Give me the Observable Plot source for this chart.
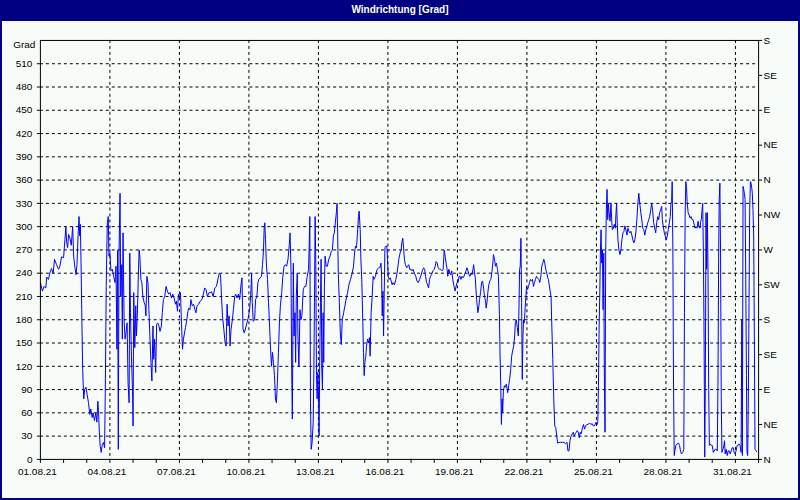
<!DOCTYPE html>
<html>
<head>
<meta charset="utf-8">
<script src="https://cdn.jsdelivr.net/npm/d3@7"></script>
<script src="https://cdn.jsdelivr.net/npm/@observablehq/plot@0.6"></script>
<style>
  html, body { margin: 0; padding: 0; background: #f8fcf8; }
  #frame { position: relative; width: 800px; height: 500px; box-sizing: border-box;
           border: 2px solid #000080; border-top: none; background: #f8fcf8; overflow: hidden; }
  #title { position: absolute; left: -2px; top: 0; width: 800px; height: 21px; background: #000080;
           color: #ffffff; font: bold 10px "Liberation Sans", Arial, sans-serif; text-align: center; line-height: 20px; }
  #chart { position: absolute; left: -2px; top: 21px; }
</style>
</head>
<body>
<div id="frame">
  <div id="title">Windrichtung [Grad]</div>
  <div id="chart"></div>
</div>
<script>
// hours since 01.08.2021 00:00
const hours = [
0,2.1,3.8,5.6,6.6,8.4,9.7,11.5,13.2,14.6,16.7,18.8,20.2,21.9,24.0,25.4,26.4,27.1,28.2,29.2,30.6,32.0,33.4,34.5,35.8,36.9,37.9,39.0,40.0,40.7,41.4,42.1,42.8,43.8,44.9,45.9,47.3,48.4,49.8,51.2,52.2,53.6,54.6,56.0,57.4,58.5,59.5,60.2,60.9,61.9,63.0,64.0,65.4,66.5,67.2,68.2,69.3,70.3,71.0,72.0,73.1,74.5,75.9,77.3,78.3,79.3,80.0,80.7,81.4,82.5,83.2,84.2,84.9,85.6,86.7,87.7,88.7,89.8,90.8,91.9,92.6,93.3,94.3,95.4,96.0,96.7,97.8,98.8,99.5,100.6,101.6,102.3,103.0,104.1,105.1,106.1,107.5,108.6,109.3,110.3,111.4,112.4,113.4,114.5,115.5,116.6,117.3,118.3,119.4,120.4,121.5,122.8,123.9,125.3,126.3,127.4,128.8,130.2,131.5,132.9,134.3,135.7,137.1,138.5,139.9,140.9,142.0,143.0,144.1,145.1,146.2,147.2,148.2,149.3,150.3,151.7,152.8,153.8,154.9,155.9,157.3,158.7,160.1,161.1,162.2,163.9,165.6,167.4,168.8,170.2,171.6,173.0,174.7,
175.6,177.3,179.0,180.7,182.4,184.2,185.2,186.6,187.6,188.6,190.0,191.4,192.4,193.4,194.4,195.5,196.5,197.5,198.9,199.9,201.3,202.3,203.7,205.1,206.4,207.8,208.8,209.9,211.2,212.3,214.0,215.4,216.7,217.8,218.8,219.5,220.5,221.9,222.9,224.3,225.3,226.3,227.7,229.1,230.1,231.1,231.8,232.5,233.2,234.2,235.3,236.3,237.3,238.3,239.4,240.4,241.4,242.5,243.5,244.5,245.5,246.6,247.6,248.6,250.0,251.0,252.4,253.8,255.1,256.5,257.9,258.6,259.6,260.3,261.0,262.0,262.7,263.7,264.4,265.1,266.1,266.8,267.8,268.9,269.9,270.9,272.3,273.7,275.0,276.4,277.8,278.5,279.1,279.8,280.5,281.5,282.6,283.3,283.9,284.6,285.3,286.0,286.7,287.4,288.1,288.7,289.4,290.1,290.8,291.5,292.2,292.9,293.5,294.2,294.9,296.0,297.3,298.7,300.1,301.4,302.5,303.5,304.5,305.5,306.6,307.3,307.9,308.6,309.7,310.7,311.7,312.7,314.1,315.5,316.9,318.2,319.6,321.3,323.0,324.4,325.4,326.5,327.5,328.5,329.5,330.2,331.3,332.0,333.0,334.0,334.7,335.4,336.1,337.1,337.8,338.9,339.9,340.9,341.6,342.6,343.7,344.7,345.7,347.1,348.8,350.5,
351.7,352.8,353.4,354.1,354.8,355.5,356.2,356.9,357.9,358.9,359.6,360.3,361.3,362.4,363.4,364.4,365.4,366.8,368.2,369.2,370.2,371.3,372.6,373.7,374.4,375.4,376.1,377.1,378.1,379.5,380.5,381.6,382.6,384.0,385.0,386.0,387.4,388.8,390.1,391.5,392.9,394.2,395.6,397.0,398.0,399.0,400.1,401.1,402.1,403.2,404.2,405.2,406.6,408.0,409.0,410.0,411.1,412.1,413.5,414.8,416.2,417.2,418.3,419.3,420.3,421.3,422.0,423.1,424.1,425.1,426.1,427.2,428.5,429.6,430.6,431.6,432.7,433.7,434.7,435.7,436.8,437.8,438.8,439.9,440.9,441.9,442.9,444.0,445.0,446.0,447.1,448.1,448.8,449.8,450.5,451.2,451.9,452.5,453.2,454.3,454.9,456.0,457.0,458.0,459.1,460.1,461.1,461.8,462.8,463.5,464.5,465.6,466.6,467.6,468.7,469.3,470.4,471.4,472.4,473.5,474.5,475.5,476.2,476.9,477.6,478.3,478.9,479.6,480.7,481.7,482.7,484.1,485.1,486.1,487.2,488.2,489.2,490.3,491.3,492.0,493.0,494.0,495.1,495.8,496.4,497.1,497.8,498.5,499.2,499.9,500.5,501.2,501.9,502.9,503.6,504.7,505.7,506.7,507.7,508.8,509.8,510.8,511.9,512.9,513.9,514.9,516.3,517.3,518.4,519.4,520.4,521.5,522.5,523.5,524.6,525.6,526.3,
528.0,529.0,529.7,530.8,531.8,532.8,533.9,534.9,535.9,537.3,539.0,540.7,542.4,544.1,545.5,546.5,547.6,548.6,549.6,551.0,552.0,553.0,554.1,555.1,556.1,557.2,558.2,559.2,560.2,561.6,562.6,563.7,564.7,566.1,567.4,568.8,570.2,571.6,572.9,574.3,575.7,576.7,577.4,578.1,578.8,579.5,580.1,580.8,581.5,582.2,582.9,583.6,584.2,584.9,585.6,586.3,587.0,587.7,588.4,589.1,590.1,591.1,591.8,592.5,593.5,594.5,595.6,596.3,596.9,597.6,598.3,599.3,600.4,601.4,602.4,603.5,604.5,605.5,606.5,607.6,608.6,609.6,610.7,611.7,612.7,613.7,614.8,615.8,616.8,617.9,618.9,619.9,620.9,622.0,623.0,624.0,625.1,626.1,627.1,628.1,629.2,630.2,631.2,632.3,633.3,634.3,635.3,636.4,637.4,638.4,639.5,640.5,641.5,642.5,643.6,644.3,645.3,646.3,647.3,648.4,649.4,650.4,651.5,652.5,653.2,653.9,654.5,655.2,655.9,656.6,657.3,658.3,659.7,661.1,662.1,663.1,664.1,665.5,666.5,667.2,667.9,668.6,669.3,670.0,671.0,672.0,673.1,674.1,675.1,676.1,677.2,678.2,679.2,680.3,681.3,682.3,683.3,684.0,684.7,685.4,686.1,686.8,687.5,688.2,688.8,689.5,690.2,690.9,691.6,692.3,693.0,694.0,695.0,696.0,697.1,698.1,699.1,700.2,701.2,701.9,702.6,703.2,703.9,704.6,705.3,706.0,707.0,708.0,708.7,709.4,710.4,711.5,712.5,713.5,714.6,715.6,716.6,717.7,718.7,719.7,720.7,721.8,722.8,723.8,724.8,725.9,726.6,727.2,727.9,728.6,729.3,730.0,730.7,731.4,732.0,732.7,733.4,734.1,734.8,735.5,736.2,736.9,737.5,738.2,738.9,739.6,740.3,741.3,742.3
];
// wind direction in degrees
const deg = [
228,217,223,221,235,232,240,246,240,258,251,245,249,261,260,283,300,281,273,290,285,276,300,261,247,238,251,288,313,288,303,253,193,116,78,90,93,84,73,58,65,54,60,50,60,48,75,63,39,18,9,18,22,15,86,223,305,313,262,266,243,245,236,228,249,142,270,13,262,343,210,251,155,292,180,155,163,176,99,73,266,189,133,90,43,215,144,198,159,193,245,270,262,232,228,210,202,198,185,236,228,193,159,125,101,172,129,155,112,174,176,172,165,172,189,206,210,223,217,213,215,208,213,208,200,204,191,213,208,215,174,142,155,163,170,180,191,195,193,206,198,200,193,189,198,200,204,206,213,221,219,210,215,
215,216,210,221,223,234,240,238,210,185,168,150,146,200,172,185,146,168,180,193,210,213,208,213,206,225,234,168,163,168,176,183,193,210,240,202,178,180,206,210,228,232,234,236,251,270,298,305,283,249,232,202,176,146,120,138,125,108,78,73,99,138,176,198,215,234,249,251,249,258,277,292,245,116,52,253,159,189,125,210,240,159,120,193,180,185,219,223,223,236,245,279,313,73,13,22,48,116,202,313,253,108,78,112,82,30,133,202,258,116,90,189,125,223,262,249,249,258,262,268,270,288,292,305,318,330,296,240,202,163,148,180,189,198,208,215,225,232,240,249,266,275,273,292,313,320,296,258,228,176,138,108,125,133,146,155,150,157,133,189,210,236,232,236,245,247,
247,253,240,185,217,159,215,273,275,275,258,236,232,234,230,225,228,225,232,238,247,258,266,270,279,285,275,258,251,247,249,251,245,245,243,245,240,236,230,228,232,237,243,247,245,236,228,225,221,232,236,238,243,245,249,255,253,247,245,245,243,245,270,262,253,245,236,245,240,238,243,232,223,217,223,228,228,236,236,232,236,234,236,240,243,247,243,238,236,240,238,245,251,240,234,219,206,198,189,198,206,215,228,230,221,210,204,195,204,215,225,230,232,240,253,264,258,249,253,245,236,187,133,95,45,78,60,88,95,93,97,86,95,103,116,133,140,146,159,176,180,170,159,198,245,249,285,202,103,159,180,176,189,210,223,219,223,228,232,230,232,223,228,232,236,234,232,228,236,249,253,258,253,245,240,234,232,
217,210,176,129,78,43,41,30,21,22,22,22,22,20,22,11,11,24,30,33,35,30,33,35,37,35,28,35,33,41,45,39,43,45,45,47,45,46,43,44,48,45,48,95,172,215,266,296,253,270,193,266,112,35,270,322,348,309,330,318,307,330,309,296,298,303,298,318,330,305,283,270,264,270,283,292,294,301,296,289,298,294,292,294,289,283,279,283,292,309,330,343,330,318,309,298,296,289,296,300,305,309,313,322,330,320,305,298,292,305,313,309,318,322,326,309,300,292,288,283,288,296,305,313,330,332,358,270,90,5,11,18,20,21,18,11,7,9,13,189,313,358,352,332,318,315,311,313,309,309,303,298,300,298,307,300,298,307,309,322,330,266,163,3,90,318,245,318,245,90,18,20,18,18,9,11,13,13,11,95,262,335,356,266,82,9,13,18,24,7,13,5,11,11,7,11,15,15,9,7,11,18,18,20,18,9,180,5,352,348,343,335,232,108,9,5,82,202,322,358,356,350,343,322,288,159,13,11,10
];

// axis ticks and labels
const yTicks = [0,30,60,90,120,150,180,210,240,270,300,330,360,390,420,450,480,510];
const compassTicks = [0,45,90,135,180,225,270,315,360,405,450,495,540];
const compassLabels = ["N","NE","E","SE","S","SW","W","NW","N","NE","E","SE","S"];
const dateLabels = ["2021-08-01","2021-08-04","2021-08-07","2021-08-10","2021-08-13","2021-08-16","2021-08-19","2021-08-22","2021-08-25","2021-08-28","2021-08-31"];
const xStart = "2021-08-01", xEnd = "2021-09-01";

const t0 = Date.parse(xStart + "T00:00:00Z");
const data = hours.map((h, i) => ({t: new Date(t0 + h * 3600000), v: deg[i]}));
const labelDates = dateLabels.map(s => new Date(s + "T00:00:00Z"));
const dayTicks = d3.utcDay.range(new Date(xStart + "T00:00:00Z"), new Date(xEnd + "T00:00:01Z"));
const fmt = d3.utcFormat("%d.%m.%y");

const chart = Plot.plot({
  width: 800,
  height: 479,
  marginLeft: 40,
  marginRight: 40,
  marginTop: 19,
  marginBottom: 40,
  style: {fontFamily: "'Liberation Sans', Arial, sans-serif", fontSize: "10px", background: "transparent", color: "black"},
  x: {type: "utc", domain: [new Date(xStart + "T00:00:00Z"), new Date(xEnd + "T00:00:00Z")]},
  y: {domain: [0, 540]},
  marks: [
    Plot.ruleY(yTicks.filter(d => d > 0), {stroke: "black", strokeDasharray: "3,3", strokeWidth: 1, strokeOpacity: 1}),
    Plot.ruleX(labelDates.slice(1), {stroke: "black", strokeDasharray: "3,3", strokeWidth: 1, strokeOpacity: 1}),
    Plot.line(data, {x: "t", y: "v", stroke: "#0000ff", strokeWidth: 1, curve: "linear"}),
    Plot.frame({stroke: "black", strokeWidth: 1}),
    Plot.axisY({ticks: yTicks, tickSize: 3, tickPadding: 5, label: null, anchor: "left", fill: "black"}),
    Plot.text(["Grad"], {x: () => new Date(xStart + "T00:00:00Z"), y: () => 540, text: d => d, textAnchor: "end", dx: -5, dy: 4, fill: "black", fontSize: 10}),
    Plot.axisY({ticks: compassTicks, tickFormat: d => compassLabels[compassTicks.indexOf(d)], tickSize: 3, tickPadding: 2, label: null, anchor: "right", fill: "black"}),
    Plot.axisX({ticks: dayTicks, tickSize: 4, tickFormat: () => "", label: null, anchor: "bottom"}),
    Plot.axisX({ticks: labelDates, tickSize: 0, tickPadding: 9, tickFormat: fmt, label: null, anchor: "bottom", dx: -3, fill: "black"})
  ]
});
document.getElementById("chart").appendChild(chart);
</script>
</body>
</html>
